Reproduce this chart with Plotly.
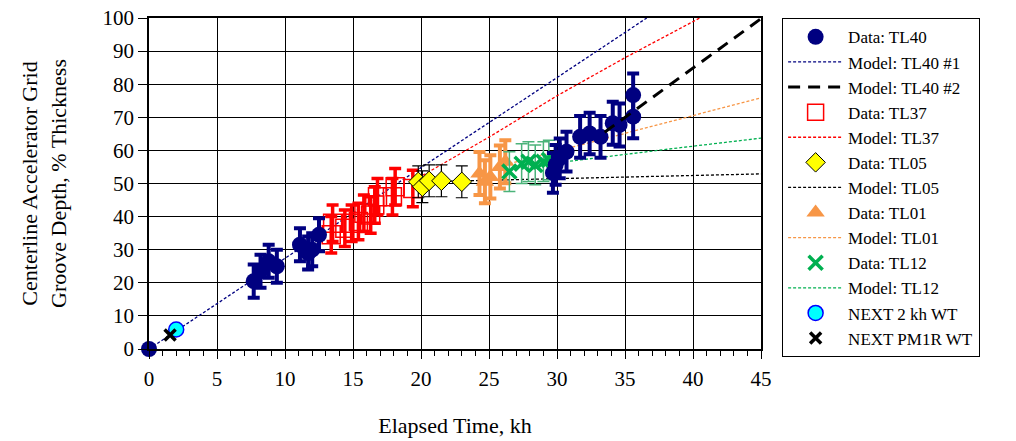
import plotly.graph_objects as go

# ---- data ----
tl40_x = [0, 7.7, 8.2, 8.8, 9.4, 11.1, 11.7, 12.0, 12.5,
          29.7, 29.9, 30.2, 30.7, 31.7, 32.4, 33.2, 34.1, 34.6, 35.6, 35.6]
tl40_y = [0, 20.5, 23.5, 26.5, 25.0, 31.5, 29.0, 30.0, 34.5,
          53.2, 55.6, 57.6, 59.6, 64.1, 65.1, 64.1, 68.2, 67.7, 70.2, 76.7]
tl40_err = [0, 5, 5, 5, 5, 5, 5, 5, 5,
            6, 6, 6, 6, 6.3, 6.3, 6.3, 6.5, 6.5, 6.5, 6.5]

tl37_x = [13.4, 13.5, 14.4, 14.9, 15.4, 15.8, 16.3, 16.6, 16.8, 17.9, 18.1, 19.4]
tl37_y = [34.5, 38.0, 36.5, 38.0, 38.5, 41.0, 40.5, 43.5, 46.0, 46.0, 49.0, 48.5]
tl37_err = [5.5] * 12

tl05_x = [19.8, 20.1, 20.6, 21.5, 23.0]
tl05_y = [50.5, 49.0, 50.8, 50.8, 50.5]
tl05_err = [4.8, 4.8, 4.8, 4.8, 4.8]

tl01_x = [24.3, 24.7, 25.1, 25.8, 26.2]
tl01_y = [53.0, 50.5, 52.0, 55.0, 56.6]
tl01_err = [6.5, 6.5, 6.5, 6.5, 6.5]

tl12_x = [26.5, 27.4, 27.9, 28.4, 29.0, 29.4]
tl12_y = [53.6, 56.0, 56.6, 55.6, 56.6, 57.1]
tl12_err = [6, 6, 6, 6, 6, 6]

next2_x, next2_y = [2.0], [5.9]
pm1r_x, pm1r_y = [1.55], [4.2]

m40a_x = [0, 10, 20, 30, 36.6]
m40a_y = [0, 27.5, 54.8, 82.0, 100]
m40b_x = [33.5, 45]
m40b_y = [65.5, 99.8]
m37_x = [19.5, 25, 30, 35, 40.5]
m37_y = [51.0, 64.0, 76.5, 88.0, 100]
m05_x = [20, 25, 30, 38, 45]
m05_y = [50.5, 51.0, 51.5, 52.3, 52.9]
m01_x = [26.5, 31.2, 39.5, 45]
m01_y = [56.0, 61.1, 70.0, 75.9]
m12_x = [29.5, 31.2, 38, 45]
m12_y = [56.0, 56.9, 60.3, 63.7]

# ---- figure ----
NAVY = "#000080"
RED = "#ff0000"
ORANGE = "#f79646"
GREEN = "#00b050"
LGREEN = "#4bb37a"

fig = go.Figure()

def line(x, y, name, color, width=1.3, dash="3px,2px", rank=1):
    fig.add_trace(go.Scatter(x=x, y=y, mode="lines", name=name, legendrank=rank,
                             line=dict(color=color, width=width, dash=dash)))

line(m40a_x, m40a_y, "Model: TL40 #1", NAVY, rank=2)
line(m37_x, m37_y, "Model: TL37", RED, rank=5)
line(m05_x, m05_y, "Model: TL05", "black", rank=7)
line(m01_x, m01_y, "Model: TL01", ORANGE, rank=9)
line(m12_x, m12_y, "Model: TL12", GREEN, rank=11)

fig.add_trace(go.Scatter(x=tl37_x, y=tl37_y, mode="markers", name="Data: TL37", legendrank=4,
                         error_y=dict(type="data", array=tl37_err, color=RED, thickness=3.5, width=6),
                         marker=dict(symbol="square-open", size=18, color=RED, line=dict(width=1.5)),
                         cliponaxis=False))
fig.add_trace(go.Scatter(x=tl05_x, y=tl05_y, mode="markers", name="Data: TL05", legendrank=6,
                         error_y=dict(type="data", array=tl05_err, color="black", thickness=1.2, width=6),
                         marker=dict(symbol="diamond", size=15, color="#ffff00",
                                     line=dict(color="black", width=1)),
                         cliponaxis=False))
fig.add_trace(go.Scatter(x=tl01_x, y=tl01_y, mode="markers", name="Data: TL01", legendrank=8,
                         error_y=dict(type="data", array=tl01_err, color=ORANGE, thickness=4, width=6),
                         marker=dict(symbol="triangle-up", size=16, color=ORANGE),
                         cliponaxis=False))
fig.add_trace(go.Scatter(x=tl12_x, y=tl12_y, mode="markers", name="Data: TL12", legendrank=10,
                         error_y=dict(type="data", array=tl12_err, color=LGREEN, thickness=1.5, width=6),
                         marker=dict(symbol="x-thin", size=14, color=GREEN,
                                     line=dict(color=GREEN, width=3.5)),
                         cliponaxis=False))
fig.add_trace(go.Scatter(x=tl40_x, y=tl40_y, mode="markers", name="Data: TL40", legendrank=1,
                         error_y=dict(type="data", array=tl40_err, color=NAVY, thickness=4, width=6),
                         marker=dict(symbol="circle", size=16, color=NAVY),
                         cliponaxis=False))
line(m40b_x, m40b_y, "Model: TL40 #2", "black", width=3, dash="12px,8px", rank=3)
fig.add_trace(go.Scatter(x=next2_x, y=next2_y, mode="markers", name="NEXT 2 kh WT", legendrank=12,
                         marker=dict(symbol="circle", size=15, color="#00ffff",
                                     line=dict(color="#0000ff", width=1.5)),
                         cliponaxis=False))
fig.add_trace(go.Scatter(x=pm1r_x, y=pm1r_y, mode="markers", name="NEXT PM1R WT", legendrank=13,
                         marker=dict(symbol="x-thin", size=11, color="black",
                                     line=dict(color="black", width=3.5)),
                         cliponaxis=False))

FONT = "Liberation Serif, Times New Roman, serif"
fig.update_layout(
    width=1016, height=441,
    margin=dict(l=149, r=255, t=18, b=92, autoexpand=False),
    paper_bgcolor="white", plot_bgcolor="white",
    font=dict(family=FONT, size=20, color="black"),
    showlegend=True,
    legend=dict(x=1.034, y=1.0, xanchor="left", yanchor="top",
                bordercolor="black", borderwidth=1.3, bgcolor="white",
                font=dict(family=FONT, size=17, color="black"),
                itemwidth=55, tracegroupgap=0, maxheight=420),
    xaxis=dict(range=[0, 45], dtick=5, tick0=0, automargin=False,
               showgrid=True, gridcolor="black", gridwidth=1.3,
               showline=True, linecolor="black", linewidth=1.5, mirror=True,
               ticks="outside", ticklen=8, tickcolor="black", tickwidth=1.3,
               ticklabelstandoff=2,
               minor=dict(dtick=1, ticks="outside", ticklen=5, tickcolor="black", tickwidth=1, showgrid=False),
               zeroline=False,
               title=dict(text="Elapsed Time, kh", font=dict(family=FONT, size=22), standoff=28),
               tickfont=dict(family=FONT, size=21)),
    yaxis=dict(range=[0, 100], dtick=10, tick0=0, automargin=False,
               showgrid=True, gridcolor="black", gridwidth=1.3,
               showline=True, linecolor="black", linewidth=1.5, mirror=True,
               ticks="outside", ticklen=9, tickcolor="black", tickwidth=1.3,
               zeroline=False,
               title=dict(text="Centerline Accelerator Grid<br>Groove Depth, % Thickness",
                          font=dict(family=FONT, size=22), standoff=30),
               tickfont=dict(family=FONT, size=21)),
)

# remove the default 8px page margin so the figure fills the window exactly
fig.write_html("out.html", config={"displayModeBar": False},
               post_script="document.body.style.margin='0';")
